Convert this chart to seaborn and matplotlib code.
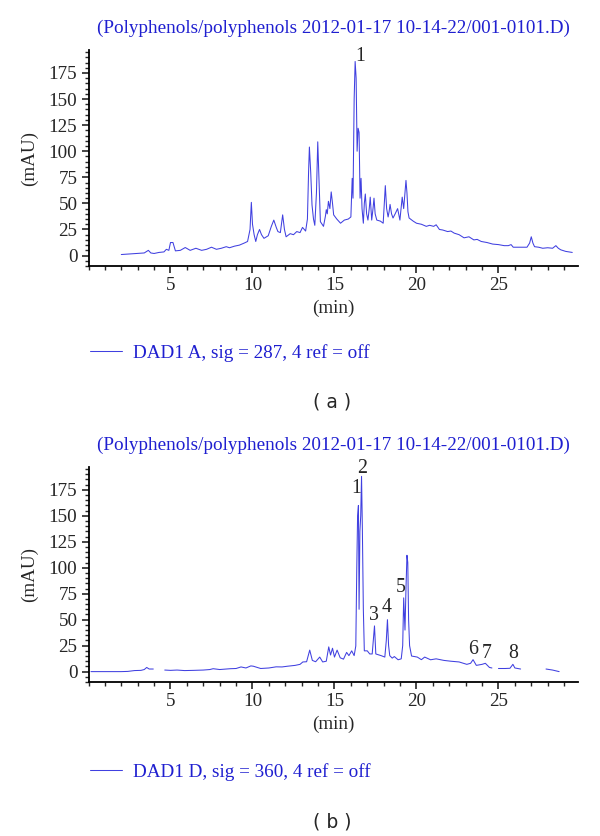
import numpy as np
import pandas as pd
import matplotlib
matplotlib.use("Agg")
import matplotlib.pyplot as plt
import seaborn as sns
from matplotlib.ticker import MultipleLocator

# Panel (a): DAD1 A, 287 nm  (time in min, absorbance in mAU)
t_a = [2.0, 2.5, 3.0, 3.4, 3.65, 3.8, 4.0, 4.3, 4.6, 4.75, 4.9, 5.0, 5.15, 5.3, 5.6,
       5.9, 6.2, 6.55, 6.9, 7.2, 7.5, 7.8, 8.1, 8.4, 8.6, 8.9, 9.2, 9.5, 9.7, 9.85,
       9.93, 10.0, 10.1, 10.2, 10.3, 10.43, 10.55, 10.7, 10.96, 11.15, 11.3, 11.45, 11.55, 11.7, 11.84,
       11.95, 12.05, 12.3, 12.5, 12.7, 12.9, 13.05, 13.24, 13.35, 13.42, 13.47, 13.55, 13.63, 13.72, 13.8,
       13.9, 13.98, 14.06, 14.14, 14.33, 14.45, 14.5, 14.56, 14.63, 14.72, 14.8, 14.88, 14.95, 15.14, 15.37,
       15.6, 15.84, 16.0, 16.08, 16.13, 16.2, 16.26, 16.32, 16.38, 16.44, 16.5, 16.56, 16.62, 16.68, 16.76,
       16.82, 16.88, 16.96, 17.04, 17.12, 17.18, 17.27, 17.35, 17.41, 17.48, 17.58, 17.8, 17.97, 18.04, 18.1,
       18.18, 18.27, 18.33, 18.39, 18.48, 18.57, 18.7, 18.85, 18.99, 19.08, 19.13, 19.22, 19.3, 19.36, 19.42,
       19.48, 19.55, 19.8, 20.0, 20.3, 20.6, 20.8, 21.05, 21.2, 21.4, 21.6, 21.9, 22.1, 22.3, 22.6,
       22.9, 23.2, 23.5, 23.7, 23.95, 24.3, 24.65, 25.0, 25.35, 25.6, 25.77, 25.9, 26.3, 26.74, 26.9,
       27.0, 27.1, 27.2, 27.45, 27.7, 28.0, 28.3, 28.5, 28.65, 28.8, 29.1, 29.5]
mau_a = [1.0, 1.5, 2.0, 2.5, 5.0, 2.5, 2.0, 3.0, 3.5, 6.0, 5.0, 12.5, 12.5, 4.5, 5.0,
         7.7, 5.0, 7.0, 5.0, 6.0, 8.0, 6.0, 7.0, 8.5, 7.5, 9.0, 10.0, 12.0, 13.5, 25.0,
         51.0, 30.0, 20.0, 13.5, 20.0, 25.0, 20.0, 16.5, 19.0, 28.0, 34.0, 27.0, 23.0, 22.0, 39.0,
         25.0, 18.0, 21.0, 20.0, 23.0, 22.0, 27.0, 23.5, 35.0, 80.0, 104.0, 80.0, 48.5, 35.0, 29.0,
         60.0, 109.0, 70.0, 32.5, 28.0, 38.0, 44.0, 40.0, 52.0, 45.0, 61.0, 50.0, 39.0, 35.0, 31.0,
         34.0, 35.0, 37.0, 74.0, 55.0, 150.0, 186.0, 170.0, 100.0, 122.0, 118.0, 55.0, 74.0, 45.0, 31.0,
         50.0, 59.0, 40.0, 34.0, 45.0, 56.0, 34.0, 45.0, 55.0, 40.0, 34.0, 33.0, 31.0, 50.0, 67.0,
         45.0, 37.0, 42.0, 49.0, 40.0, 36.0, 40.0, 45.0, 34.0, 48.0, 56.0, 45.0, 60.0, 72.0, 60.0,
         42.0, 36.0, 33.0, 31.0, 30.0, 28.0, 29.0, 28.0, 29.5, 25.0, 24.5, 23.0, 23.5, 21.5, 20.0,
         17.0, 18.0, 15.0, 15.5, 13.5, 12.5, 11.0, 10.5, 9.5, 9.5, 10.5, 8.0, 8.0, 8.0, 12.0,
         18.0, 12.0, 8.5, 8.0, 7.0, 7.5, 7.0, 9.5, 7.0, 5.5, 4.0, 3.0]

# Panel (b): DAD1 D, 360 nm  (nan = gap in the recorded trace)
t_b = [0.15, 1.0, 2.0, 2.4, 2.8, 3.2, 3.4, 3.55, 3.7, 3.95, 4.3, 4.65, 5.0, 5.4, 5.86,
       6.4, 7.0, 7.4, 7.6, 8.0, 8.65, 9.0, 9.3, 9.6, 9.9, 10.05, 10.5, 11.0, 11.44, 11.8,
       12.14, 12.6, 12.9, 13.07, 13.3, 13.49, 13.65, 13.85, 14.1, 14.28, 14.5, 14.65, 14.76, 14.88, 15.0,
       15.16, 15.35, 15.55, 15.74, 15.88, 16.05, 16.2, 16.3, 16.36, 16.41, 16.46, 16.5, 16.55, 16.6, 16.65,
       16.7, 16.76, 16.82, 17.0, 17.15, 17.3, 17.44, 17.52, 17.84, 18.07, 18.16, 18.23, 18.3, 18.37, 18.52,
       18.65, 18.88, 19.07, 19.16, 19.22, 19.3, 19.36, 19.42, 19.47, 19.52, 19.58, 19.7, 20.05, 20.3, 20.5,
       20.86, 21.2, 21.67, 22.1, 22.6, 23.07, 23.3, 23.45, 23.65, 24.0, 24.2, 24.45, 24.6, 24.8, 25.0,
       25.4, 25.7, 25.88, 26.0, 26.35, 27.0, 27.9, 28.3, 28.7]
mau_b = [0.0, 0.0, 0.0, 0.2, 1.0, 1.2, 2.0, 4.0, 2.5, 2.5, np.nan, 1.5, 1.2, 1.5, 1.0,
         1.2, 1.5, 2.0, 2.8, 2.0, 2.8, 3.0, 4.5, 3.5, 5.5, 5.2, 3.0, 3.5, 4.6, 4.5,
         5.2, 6.0, 7.0, 9.3, 9.5, 20.7, 10.8, 9.5, 14.0, 9.3, 10.0, 23.8, 16.0, 22.5, 14.0,
         20.7, 13.3, 12.0, 18.5, 15.4, 20.0, 15.4, 24.7, 100.0, 150.0, 160.0, 60.0, 135.0, 150.0, 188.0,
         138.0, 60.0, 20.0, 20.0, 17.0, 17.0, 44.0, 17.0, 15.4, 14.0, 30.0, 50.0, 25.0, 15.4, 13.0,
         14.5, 11.4, 12.3, 25.0, 71.0, 40.0, 80.0, 112.0, 105.0, 50.0, 25.0, 15.0, 14.0, 11.5, 14.0,
         11.4, 12.3, 10.8, 10.0, 9.3, 7.0, 8.0, 11.5, 6.0, 7.0, 8.0, 4.0, 3.5, np.nan, 3.0,
         3.0, 3.2, 7.0, 3.5, 2.5, np.nan, 2.5, 1.5, 0.0]

# peak numbers written on the chromatograms (label position in data units)
peak_a = ["1"]
peak_a_t = [16.55]
peak_a_y = [191]
peak_b = ["1", "2", "3", "4", "5", "6", "7", "8"]
peak_b_t = [16.3, 16.7, 17.42, 18.18, 19.05, 23.43, 24.3, 25.9]
peak_b_y = [176, 196, 54, 62, 81, 21, 17, 17]

title = "(Polyphenols/polyphenols 2012-01-17 10-14-22/001-0101.D)"
legend_a = "DAD1 A, sig = 287, 4 ref = off"
legend_b = "DAD1 D, sig = 360, 4 ref = off"

sns.set_style("ticks")
plt.rcParams["font.family"] = ["Liberation Serif", "DejaVu Serif"]

line_col = "#4040e0"
text_blue = "#1f1fd0"
fs = 13.8

fig = plt.figure(figsize=(6.0, 8.36), dpi=100)
W, H = 600, 836


def frac_box(left, top, right, bottom):
    return [left / W, 1 - bottom / H, (right - left) / W, (bottom - top) / H]


def chromatogram(box, t, v, names, nt, ny, legend_text, legend_y, tag, tag_y):
    ax = fig.add_axes(box)
    df = pd.DataFrame({"t": t, "v": v})
    df["seg"] = df["v"].isna().cumsum()
    df = df.dropna()
    sns.lineplot(data=df, x="t", y="v", units="seg", estimator=None, sort=False,
                 color=line_col, lw=0.75, ax=ax)
    ax.set_xlim(0, 29.85)
    ax.set_ylim(-10, 197)
    ax.xaxis.set_minor_locator(MultipleLocator(1))
    ax.set_xticks([5, 10, 15, 20, 25])
    ax.yaxis.set_minor_locator(MultipleLocator(5))
    ax.set_yticks([0, 25, 50, 75, 100, 125, 150, 175])
    ax.tick_params(which="major", direction="out", length=5, width=1.2, labelsize=fs, pad=3)
    ax.tick_params(which="minor", direction="out", length=3, width=1.0)
    sns.despine(ax=ax)
    for s in ("left", "bottom"):
        ax.spines[s].set_linewidth(1.3)
        ax.spines[s].set_color("black")
    ax.set_xlabel("(min)", fontsize=fs, labelpad=4)
    ax.set_ylabel("(mAU)", fontsize=fs, labelpad=8)
    ax.set_title(title, color=text_blue, fontsize=fs, pad=12)
    for name, x, y in zip(names, nt, ny):
        ax.text(x, y, name, fontsize=fs + 0.5, ha="center", va="center", clip_on=False)
    handle = ax.get_lines()[0]
    fig.legend([handle], [legend_text], loc="center left",
               bbox_to_anchor=(90 / W, 1 - legend_y / H), frameon=False,
               fontsize=fs, labelcolor=text_blue, handlelength=1.65,
               handletextpad=0.6, borderpad=0, borderaxespad=0)
    fig.text(332 / W, 1 - tag_y / H, tag, fontsize=13.5, ha="center", va="center",
             family="DejaVu Sans")
    return ax


chromatogram(frac_box(88.5, 50, 578, 266), t_a, mau_a, peak_a, peak_a_t, peak_a_y,
             legend_a, 353, "( a )", 402)
chromatogram(frac_box(88.5, 467, 578, 682), t_b, mau_b, peak_b, peak_b_t, peak_b_y,
             legend_b, 772, "( b )", 822)

fig.savefig("out.png", dpi=100)
